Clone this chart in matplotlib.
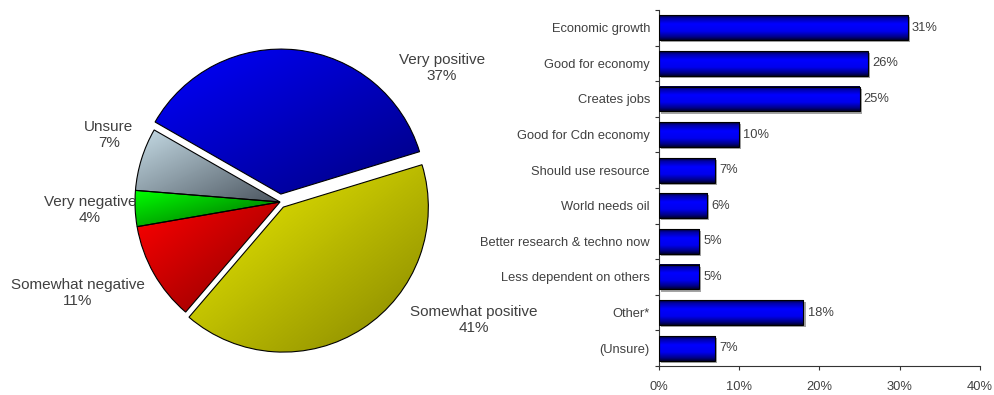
import matplotlib
matplotlib.use('Agg')
import matplotlib.pyplot as plt
import matplotlib.patheffects as pe
from matplotlib.colors import LinearSegmentedColormap
import numpy as np

plt.rcParams['font.family'] = ['Liberation Sans', 'DejaVu Sans']

# pie data (clockwise from the top)
pie_names = ['Very positive', 'Somewhat positive', 'Somewhat negative', 'Very negative', 'Unsure']
pie_values = [37, 41, 11, 4, 7]
pie_explode = [0.055, 0.042, 0, 0, 0]   # fraction of radius
# light -> dark gradient ends for each slice
pie_grads = [('#0000ff', '#000080'),
             ('#f0f000', '#858500'),
             ('#ff0000', '#880000'),
             ('#00ff00', '#006000'),
             ('#c6dce6', '#4c5660')]
# label centres in pixels (x, y from top)
pie_label_pos = [(442, 68), (474, 320), (78, 293), (90, 210), (109, 135)]

# bar data
bar_names = ['Economic growth', 'Good for economy', 'Creates jobs', 'Good for Cdn economy',
             'Should use resource', 'World needs oil', 'Better research & techno now',
             'Less dependent on others', 'Other*', '(Unsure)']
bar_values = [31, 26, 25, 10, 7, 6, 5, 5, 18, 7]
x_ticks = [0, 10, 20, 30, 40]

txt_col = '#404040'
W, H = 995, 395
fig = plt.figure(figsize=(W / 100, H / 100), dpi=100)

# ---------------- pie ----------------
R = 145
axp = fig.add_axes([0, 0, 500 / W, 1])
wedges, _ = axp.pie(pie_values, startangle=150.2, counterclock=False,
                    explode=[e * R for e in pie_explode], center=(280, H - 202), radius=R,
                    wedgeprops=dict(edgecolor='black', linewidth=0.8))

n = 64
ii, jj = np.mgrid[0:n, 0:n]
diag = (ii + jj) / (2 * n - 2)
for w, (c1, c2) in zip(wedges, pie_grads):
    w.set_facecolor('none')
    w.set_zorder(3)
    ext = w.get_path().get_extents()
    cm = LinearSegmentedColormap.from_list('g', [c1, c2])
    im = axp.imshow(diag, cmap=cm, origin='upper', aspect='auto',
                    extent=[ext.x0, ext.x1, ext.y0, ext.y1], zorder=2,
                    interpolation='bilinear')
    im.set_clip_path(w)

for name, v, (x, y) in zip(pie_names, pie_values, pie_label_pos):
    axp.text(x, H - y, f'{name}\n{v}%', ha='center', va='center',
             fontsize=11, color=txt_col, linespacing=1.1)

axp.set_xlim(0, 500)
axp.set_ylim(0, H)
axp.set_aspect('auto')
axp.axis('off')

# ---------------- bars ----------------
axb = fig.add_axes([659 / W, (H - 366) / H, (980 - 659) / W, (366 - 10) / H])
ypos = np.arange(len(bar_names))
bh = 0.7

axb.barh(ypos, bar_values, height=bh, facecolor='none', edgecolor='none', zorder=1,
         path_effects=[pe.SimplePatchShadow(offset=(1.5, -1.5), shadow_rgbFace='#9a9a9a', alpha=0.9)])

bar_cm = LinearSegmentedColormap.from_list(
    'b', [(0, '#000030'), (0.12, '#0000a8'), (0.35, '#0000ff'),
          (0.65, '#0000ee'), (0.88, '#000088'), (1, '#000030')])
grad = np.linspace(0, 1, 64).reshape(-1, 1)
for y, v in zip(ypos, bar_values):
    axb.imshow(grad, cmap=bar_cm, origin='upper', aspect='auto',
               extent=[0, v, y + bh / 2, y - bh / 2], zorder=2, interpolation='bilinear')

axb.barh(ypos, bar_values, height=bh, facecolor='none', edgecolor='black',
         linewidth=0.8, zorder=3)

for y, v in zip(ypos, bar_values):
    axb.annotate(f'{v}%', (v, y), xytext=(3, 0), textcoords='offset points',
                 ha='left', va='center', fontsize=9.3, color=txt_col)

axb.set_xlim(0, 40)
axb.set_ylim(len(bar_names) - 0.5, -0.5)
axb.set_yticks(ypos)
axb.set_yticklabels(bar_names)
axb.set_yticks(np.arange(-0.5, len(bar_names), 1), minor=True)
axb.set_xticks(x_ticks)
axb.set_xticklabels([f'{t}%' for t in x_ticks])
axb.tick_params(axis='y', which='major', length=0, pad=6.5, labelsize=9.3, labelcolor=txt_col)
axb.tick_params(axis='y', which='minor', length=3, width=0.8, color='#333333', direction='out')
axb.tick_params(axis='x', length=3, width=0.8, color='#333333', pad=8, labelsize=9.3,
                labelcolor=txt_col)
for s in ['top', 'right']:
    axb.spines[s].set_visible(False)
for s in ['left', 'bottom']:
    axb.spines[s].set_color('#333333')
    axb.spines[s].set_linewidth(0.8)

fig.savefig('out.png', dpi=100)
